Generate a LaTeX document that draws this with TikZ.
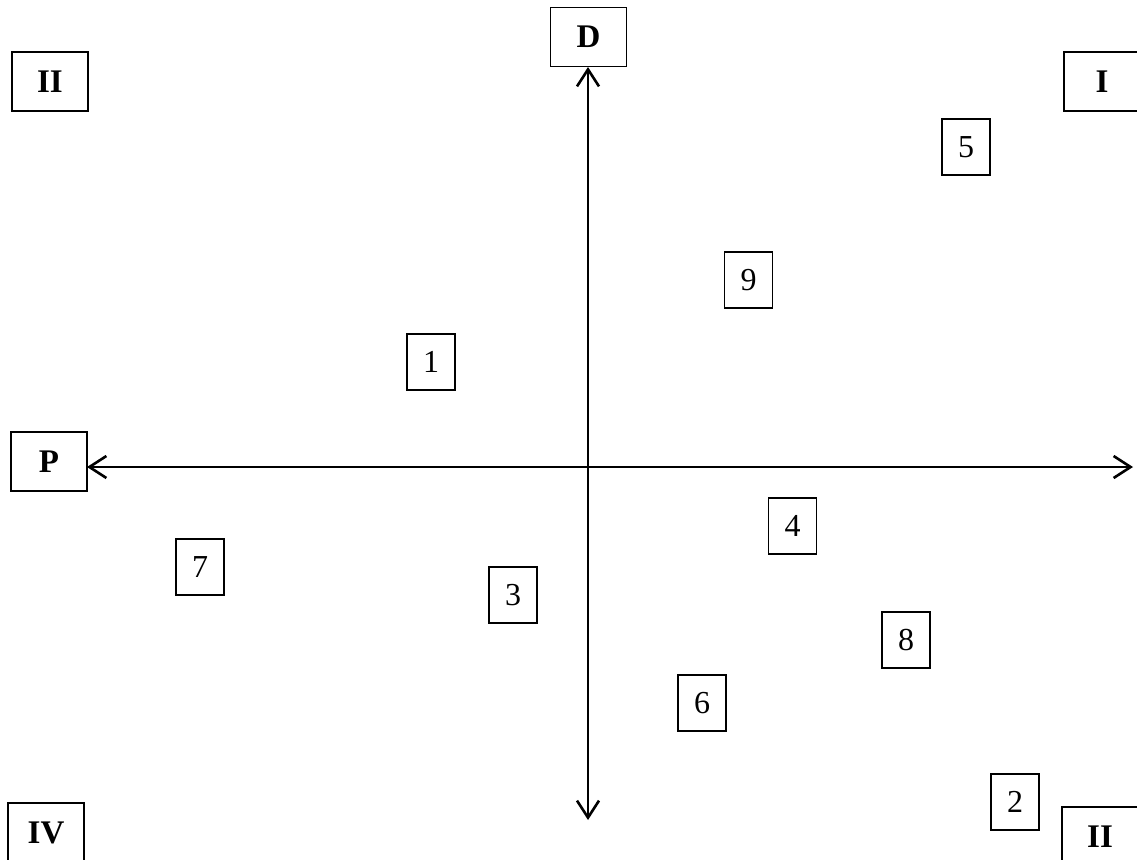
\documentclass[tikz,border=0pt]{standalone}
\usepackage{fontspec}
\setmainfont{Liberation Serif}
\usetikzlibrary{arrows.meta}
\begin{document}
\begin{tikzpicture}[x=1pt,y=-1pt,
  numbox/.style={draw=black, line width=1.5pt, minimum width=48pt, minimum height=56pt, inner sep=0pt, font=\fontsize{32}{34}\selectfont},
  bigbox/.style={draw=black, line width=1.5pt, minimum width=76pt, minimum height=59pt, inner sep=0pt, font=\fontsize{33}{35}\selectfont\bfseries},
  axis/.style={line width=2.6pt, {Straight Barb[length=17pt,width=22pt,line width=2.6pt]}-{Straight Barb[length=17pt,width=22pt,line width=2.6pt]}}]
\useasboundingbox (0,0) rectangle (1137,859);
\node[bigbox] (q2a) at (50,81.5) {II};
\node[bigbox] (q1) at (1102,81.5) {I};
\node[bigbox] (q4) at (46,832.5) {IV};
\node[bigbox] (q2b) at (1100,836.5) {II};
\node[bigbox] (D) at (588.5,37) {D};
\node[bigbox] (P) at (49,461.5) {P};
\node[numbox] (n5) at (966,147) {5};
\node[numbox] (n9) at (748.5,280) {9};
\node[numbox] (n1) at (431,362) {1};
\node[numbox] (n4) at (792.5,526) {4};
\node[numbox] (n7) at (200,567) {7};
\node[numbox] (n3) at (513,595) {3};
\node[numbox] (n8) at (906,640) {8};
\node[numbox] (n6) at (702,703) {6};
\node[numbox] (n2) at (1015,802) {2};
\coordinate (left) at (87,467);
\coordinate (right) at (1133,467);
\coordinate (bottom) at (588,820);
\coordinate (top) at (588,67);
\draw[axis] (left) -- (right);
\draw[axis] (top) -- (bottom);
\end{tikzpicture}
\end{document}
